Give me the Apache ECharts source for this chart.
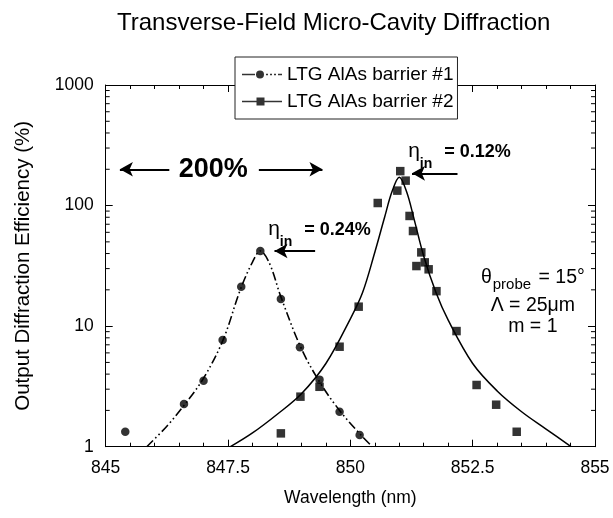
<!DOCTYPE html>
<html>
<head>
<meta charset="utf-8">
<script src="https://cdn.jsdelivr.net/npm/echarts@6/dist/echarts.min.js"></script>
<style>
  html, body { margin: 0; padding: 0; background: #fff; }
  #chart { width: 613px; height: 518px; }
</style>
</head>
<body>
<div id="chart"></div>
<script>
// Measured output diffraction efficiency, sample with LTG AlAs barrier #1
const barrier1Wavelength = [845.40, 846.60, 847.00, 847.39, 847.77, 848.16, 848.58, 848.97, 849.37, 849.78, 850.19];
const barrier1Efficiency = [1.33, 2.26, 3.53, 7.67, 21.2, 42, 16.8, 6.67, 3.6, 1.95, 1.25];

// Measured output diffraction efficiency, sample with LTG AlAs barrier #2
const barrier2Wavelength = [848.58, 848.98, 849.37, 849.78, 850.17, 850.56, 850.96, 851.02, 851.13, 851.21,
                            851.28, 851.35, 851.45, 851.52, 851.60, 851.76, 852.17, 852.58, 852.98, 853.40];
const barrier2Efficiency = [1.29, 2.6, 3.14, 6.75, 14.5, 105, 133, 193, 161, 82,
                            61.5, 31.5, 40.9, 33.8, 29.6, 19.5, 9.1, 3.25, 2.23, 1.33];

// Fitted resonance curves
const fit1Wavelength = [845.84, 846.25, 846.6, 847.0, 847.4, 847.75, 848.0, 848.16, 848.35, 848.58, 849.0, 849.4, 849.8, 850.2, 850.45];
const fit1Efficiency = [1.0, 1.48, 2.2, 3.7, 7.7, 20, 34, 42, 33, 17.5, 6.5, 3.3, 1.95, 1.27, 1.0];
const fit2Wavelength = [847.55, 848.0, 848.5, 849.0, 849.5, 850.0, 850.25, 850.5, 850.7, 850.85, 851.0,
                        851.15, 851.3, 851.5, 851.75, 852.0, 852.5, 853.0, 853.5, 854.0, 854.51];
const fit2Efficiency = [1.0, 1.3, 1.85, 2.75, 4.9, 11.5, 19, 41, 80, 130, 172,
                        130, 78, 38, 19, 11.2, 4.9, 2.9, 1.95, 1.4, 1.0];

// Axis ranges and tick values
const xRange = [845, 855];
const xTickStep = 2.5;
const yRange = [1, 1000];
const yMinorTicks = [2, 3, 4, 5, 6, 7, 8, 9, 20, 30, 40, 50, 60, 70, 80, 90, 200, 300, 400, 500, 600, 700, 800, 900];

// Annotations: input efficiencies and the 200% arrow pair
const etaLabels = ['0.24%', '0.12%'];
const etaArrow1 = [[849.28, 42], [848.45, 42]];
const etaArrow2 = [[852.19, 185], [851.26, 185]];
const spanArrowLeft = [[846.30, 200], [845.29, 200]];
const spanArrowRight = [[848.13, 200], [849.43, 200]];

const FONT = '"Liberation Sans", Arial, Helvetica, sans-serif';
const zip = (xs, ys) => xs.map((x, i) => [x, ys[i]]);

const chart = echarts.init(document.getElementById('chart'), null, { renderer: 'canvas' });

const arrowLine = (pts) => [{ coord: pts[0] }, { coord: pts[1] }];

const etaRich = {
  e: { fontFamily: FONT, fontSize: 21, color: '#000', verticalAlign: 'top', padding: [0, 0, 0, 0] },
  s: { fontFamily: FONT, fontSize: 14, fontWeight: 'bold', color: '#000', verticalAlign: 'bottom', padding: [16, 7, 0, 0] },
  b: { fontFamily: FONT, fontSize: 18, fontWeight: 'bold', color: '#000', verticalAlign: 'top', padding: [2, 0, 0, 0] }
};

const option = {
  backgroundColor: '#fff',
  animation: false,
  title: {
    text: 'Transverse-Field Micro-Cavity Diffraction',
    left: 112,
    top: 6,
    textStyle: { fontFamily: FONT, fontSize: 24, fontWeight: 'normal', color: '#000' }
  },
  legend: {
    left: 235,
    top: 57,
    orient: 'vertical',
    itemWidth: 40,
    itemHeight: 8,
    itemGap: 8,
    padding: [8, 4, 8, 7],
    backgroundColor: '#fff',
    borderColor: '#222',
    borderWidth: 1,
    borderRadius: 0,
    textStyle: { fontFamily: FONT, fontSize: 19, color: '#000' },
    data: [
      { name: 'LTG AlAs barrier #1',
        icon: 'path://M0,3.2H13V4.8H0Z M14,4A4,4 0 1,1 22,4A4,4 0 1,1 14,4Z M24,3.2H26V4.8H24Z M28,3.2H30V4.8H28Z M32,3.2H34V4.8H32Z M36,3.2H40V4.8H36Z' },
      { name: 'LTG AlAs barrier #2',
        icon: 'path://M0,3.2H14.5V4.8H0Z M14.5,0H22.5V8H14.5Z M22.5,3.2H40V4.8H22.5Z' }
    ]
  },
  grid: { left: 105.7, right: 18, top: 85, bottom: 71.3, containLabel: false },
  xAxis: [
    {
      type: 'value', min: xRange[0], max: xRange[1], interval: xTickStep,
      name: 'Wavelength (nm)', nameLocation: 'middle', nameGap: 42,
      nameTextStyle: { fontFamily: FONT, fontSize: 17.5, color: '#000' },
      axisLine: { lineStyle: { color: '#000', width: 1 } },
      axisTick: { inside: true, length: 7, lineStyle: { color: '#000' } },
      minorTick: { show: true, splitNumber: 5, length: 4, lineStyle: { color: '#000' } },
      axisLabel: { fontFamily: FONT, fontSize: 17.5, color: '#000', margin: 12,
                   formatter: (v) => String(v) },
      splitLine: { show: false }
    },
    {
      type: 'value', position: 'top', min: xRange[0], max: xRange[1], interval: xTickStep,
      axisLine: { lineStyle: { color: '#000', width: 1 } },
      axisTick: { inside: true, length: 7, lineStyle: { color: '#000' } },
      minorTick: { show: true, splitNumber: 5, length: 4, lineStyle: { color: '#000' } },
      axisLabel: { show: false },
      splitLine: { show: false }
    }
  ],
  yAxis: [
    {
      type: 'log', logBase: 10, min: yRange[0], max: yRange[1],
      name: 'Output Diffraction Efficiency (%)', nameLocation: 'middle', nameGap: 72,
      nameTextStyle: { fontFamily: FONT, fontSize: 20.5, color: '#000' },
      axisLine: { show: true, lineStyle: { color: '#000', width: 1 } },
      axisTick: { show: true, inside: true, length: 7, lineStyle: { color: '#000' } },
      axisLabel: { fontFamily: FONT, fontSize: 17.5, color: '#000', margin: 12,
                   formatter: (v) => String(Math.round(v)) },
      splitLine: { show: false }
    },
    {
      type: 'log', logBase: 10, min: yRange[0], max: yRange[1], position: 'right',
      axisLine: { show: true, lineStyle: { color: '#000', width: 1 } },
      axisTick: { show: true, inside: true, length: 7, lineStyle: { color: '#000' } },
      axisLabel: { show: false },
      splitLine: { show: false }
    }
  ],
  series: [
    // log minor ticks on left and right frame edges
    {
      type: 'custom',
      silent: true,
      clip: false,
      data: yMinorTicks.map((v) => [xRange[0], v]),
      renderItem: (params, api) => {
        const v = api.value(1);
        const l = api.coord([xRange[0], v]);
        const r = api.coord([xRange[1], v]);
        return {
          type: 'group',
          children: [
            { type: 'line', shape: { x1: l[0], y1: l[1], x2: l[0] + 4, y2: l[1] }, style: { stroke: '#000', lineWidth: 1 } },
            { type: 'line', shape: { x1: r[0] - 4, y1: r[1], x2: r[0], y2: r[1] }, style: { stroke: '#000', lineWidth: 1 } }
          ]
        };
      }
    },
    {
      name: 'fit #1',
      type: 'line',
      data: zip(fit1Wavelength, fit1Efficiency),
      smooth: 0.35,
      showSymbol: false,
      silent: true,
      lineStyle: { color: '#000', width: 1.6, type: [9, 3, 1.6, 3, 1.6, 3] },
      markLine: {
        silent: true,
        symbol: ['none', 'arrow'],
        symbolSize: [11, 13],
        lineStyle: { color: '#000', width: 2.2, type: 'solid' },
        label: { show: false },
        data: [arrowLine(etaArrow1), arrowLine(spanArrowLeft), arrowLine(spanArrowRight)]
      },
      markPoint: {
        silent: true,
        symbol: 'circle',
        symbolSize: 0,
        data: [
          {
            coord: [847.2, 200],
            label: { show: true, position: 'inside', formatter: '200%',
                     fontFamily: FONT, fontSize: 27, fontWeight: 'bold', color: '#000' }
          },
          {
            coord: [849.37, 63.9],
            label: {
              show: true, position: 'inside', offset: [0, 5],
              formatter: '{e|η}{s|in}{b| = ' + etaLabels[0] + '}',
              rich: etaRich
            }
          }
        ]
      }
    },
    {
      name: 'fit #2',
      type: 'line',
      data: zip(fit2Wavelength, fit2Efficiency),
      smooth: 0.35,
      showSymbol: false,
      silent: true,
      lineStyle: { color: '#000', width: 1.5 },
      markLine: {
        silent: true,
        symbol: ['none', 'arrow'],
        symbolSize: [11, 13],
        lineStyle: { color: '#000', width: 2.2, type: 'solid' },
        label: { show: false },
        data: [arrowLine(etaArrow2)]
      },
      markPoint: {
        silent: true,
        symbol: 'circle',
        symbolSize: 0,
        data: [
          {
            coord: [852.23, 283],
            label: {
              show: true, position: 'inside', offset: [0, 5],
              formatter: '{e|η}{s|in}{b| = ' + etaLabels[1] + '}',
              rich: etaRich
            }
          },
          {
            coord: [853.73, 25.5],
            label: {
              show: true, position: 'inside', offset: [0, 3],
              formatter: '{t|θ}{s|probe}{t| = 15°}',
              rich: {
                t: { fontFamily: FONT, fontSize: 19.5, color: '#000', verticalAlign: 'top' },
                s: { fontFamily: FONT, fontSize: 15, color: '#000', verticalAlign: 'bottom', padding: [10, 2, 0, 1] }
              }
            }
          },
          {
            coord: [853.73, 14.7],
            label: { show: true, position: 'inside', formatter: 'Λ = 25μm',
                     fontFamily: FONT, fontSize: 19.5, color: '#000' }
          },
          {
            coord: [853.73, 9.83],
            label: { show: true, position: 'inside', formatter: 'm = 1',
                     fontFamily: FONT, fontSize: 19.5, color: '#000' }
          }
        ]
      }
    },
    {
      name: 'LTG AlAs barrier #1',
      type: 'scatter',
      data: zip(barrier1Wavelength, barrier1Efficiency),
      symbol: 'circle',
      symbolSize: 8.5,
      itemStyle: { color: '#000' },
      z: 5
    },
    {
      name: 'LTG AlAs barrier #2',
      type: 'scatter',
      data: zip(barrier2Wavelength, barrier2Efficiency),
      symbol: 'rect',
      symbolSize: 8.5,
      itemStyle: { color: '#000' },
      z: 5
    }
  ]
};

chart.setOption(option);
</script>
</body>
</html>
